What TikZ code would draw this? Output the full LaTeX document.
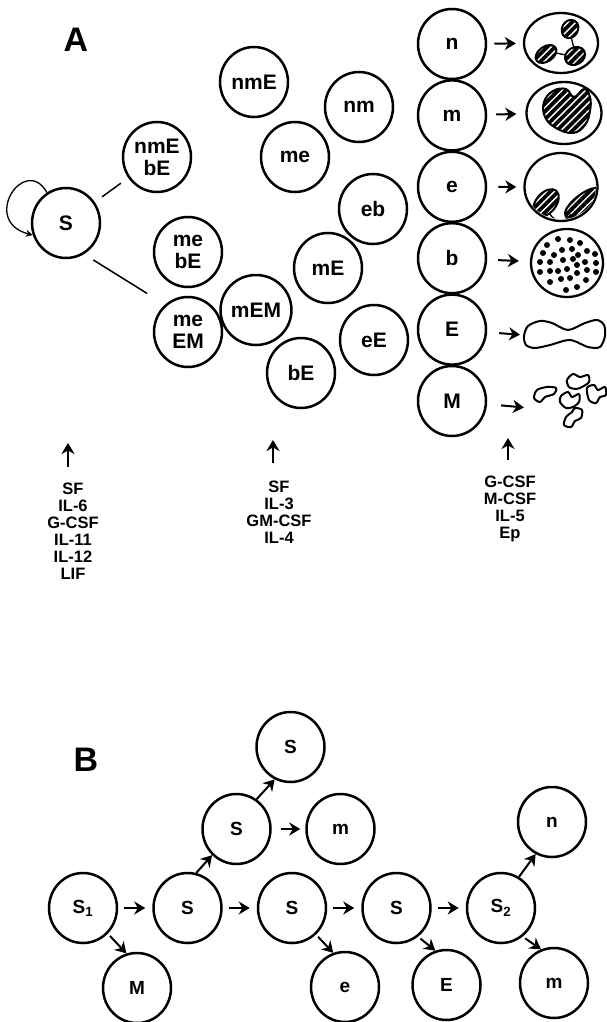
\documentclass[tikz,border=0pt]{standalone}
\usepackage{fontspec}
\setmainfont{Liberation Sans}
\usetikzlibrary{positioning,arrows.meta,shapes.geometric,patterns.meta}

\newcommand\cellfont{\bfseries\fontsize{21}{22}\selectfont}
\newcommand\stepfont{\bfseries\fontsize{19}{20}\selectfont}
\newcommand\factorfont{\bfseries\fontsize{16.5}{17}\selectfont}
\newcommand\panelfont{\bfseries\fontsize{34}{36}\selectfont}

\tikzset{
  prog/.style={ellipse, draw, line width=2.5pt, minimum width=68pt,
               minimum height=70pt, inner sep=0pt, align=center, font=\cellfont},
  lin/.style={prog, font=\stepfont},
  memb/.style={ellipse, draw, line width=2.3pt, inner sep=0pt},
  nucl/.style={draw, line width=2pt, line join=round, fill=white,
               pattern={Lines[angle=45,distance=5.5pt,line width=3.8pt]}},
  plt/.style={draw, line width=2pt, line join=round, fill=white},
  fan/.style={line width=1.5pt},
  arr/.style={-{Stealth[length=11pt,width=13pt,inset=3.5pt]}, line width=2pt},
  selfarr/.style={-{Stealth[length=7pt,width=7pt]}, line width=1.3pt},
  factors/.style={align=center, inner sep=0pt, font=\factorfont},
  panel/.style={font=\panelfont, inner sep=0pt},
}

\begin{document}
\begin{tikzpicture}[x=1pt, y=-1pt, on grid]
  \useasboundingbox (0,0) rectangle (607,1022);

  % --- A: stem cell and progenitor pool ---
  \node[panel] (pA) at (76,40) {A};
  \node[prog] (s) at (66,223) {S};
  \node[prog] (nmEbE) at (157,157) {nmE\\bE};
  \node[prog] (mebE) at (188,252) {me\\bE};
  \node[prog] (meEM) at (188,332) {me\\EM};
  \node[prog] (nmE) at (254,82) {nmE};
  \node[prog] (me) at (295,157) {me};
  \node[prog] (mEM) at (256,310) {mEM};
  \node[prog] (bE) at (301,373) {bE};
  \node[prog] (nm) at (359,107) {nm};
  \node[prog] (eb) at (373,209) {eb};
  \node[prog] (mE) at (328,268) {mE};
  \node[prog] (eE) at (374,340) {eE};

  \draw[selfarr] (s.122) .. controls +(-22,-39) and +(-53,-14) .. (s.200);
  \draw[fan, shorten <=9pt, shorten >=9pt] (s) -- (nmEbE);
  \draw[fan, shorten <=11pt, shorten >=21pt] (s.-60) -- (meEM.130);

  % committed precursors
  \node[prog] (cn) at (452,44) {n};
  \node[prog, below=71.4pt of cn] (cm) {m};
  \node[prog, below=71.4pt of cm] (ce) {e};
  \node[prog, below=71.4pt of ce] (cb) {b};
  \node[prog, below=71.4pt of cb] (cE) {E};
  \node[prog, below=71.4pt of cE] (cM) {M};

  % mature cells: nuclei first, membranes on top
  \draw[line width=1.3pt] (571,37) -- (574,48);
  \draw[line width=1.3pt] (556,53) -- (566,55);
  \draw[nucl, rotate around={60:(570,29)}] (570,29) ellipse [x radius=9.5, y radius=8];
  \draw[nucl, rotate around={35:(546,54)}] (546,54) ellipse [x radius=11.5, y radius=7.5];
  \draw[nucl, rotate around={30:(575,56)}] (575,56) ellipse [x radius=10.5, y radius=8.5];

  \draw[nucl] plot[smooth cycle, tension=0.7] coordinates {(574,97) (566,89) (553,91)
    (544,102) (545,117) (556,128) (573,133) (585,125) (590,111) (590,97) (584,89)};

  \begin{scope}
    \clip (561,187) ellipse [x radius=35, y radius=32];
    \draw[line width=1.3pt] (549,213) .. controls (556,224) and (566,222) .. (571,214);
    \draw[nucl, rotate around={50:(546,203)}] (546,203) ellipse [x radius=16, y radius=10];
    \draw[nucl, rotate around={38:(583,203)}] (583,203) ellipse [x radius=22, y radius=8.5];
  \end{scope}

  \foreach \x/\y in {558/239, 570/240, 547/245, 580/243, 562/250, 572/249, 587/251,
      543/253, 554/255, 578/255, 595/254, 563/260, 573/259, 585/262, 540/262, 550/262,
      577/265, 596/263, 567/269, 558/271, 587/270, 540/272, 550/271, 577/273, 596/272,
      561/279, 570/278, 586/280, 550/282, 577/287, 566/290}
    \fill (\x,\y) circle [radius=3];

  \node[memb, minimum width=74pt, minimum height=60pt] (neut) at (561,43) {};
  \node[memb, minimum width=75pt, minimum height=62pt] (mono) at (564,113) {};
  \node[memb, minimum width=73pt, minimum height=68pt] (eos) at (561,187) {};
  \node[memb, minimum width=72pt, minimum height=68pt] (baso) at (567,263) {};

  \draw[plt] plot[smooth cycle] coordinates {(524,336) (528,326) (540,321) (552,323)
    (568,330) (585,323) (597,320) (604,325) (605,336) (600,347) (588,347) (570,340)
    (550,345) (535,348) (526,345)};
  \coordinate (ery) at (524,335);

  \draw[plt] plot[smooth cycle] coordinates {(534,398) (537,390) (547,387) (556,388)
    (554,394) (545,397) (540,402)};
  \draw[plt] plot[smooth cycle] coordinates {(567,380) (573,374) (580,377) (588,375)
    (589,382) (582,387) (576,389) (569,387)};
  \draw[plt] plot[smooth cycle] coordinates {(587,388) (594,385) (598,390) (605,387)
    (606,395) (600,397) (596,403) (589,400)};
  \draw[plt] plot[smooth cycle] coordinates {(561,396) (568,392) (572,397) (579,394)
    (579,402) (573,407) (566,408) (560,402)};
  \draw[plt] plot[smooth cycle] coordinates {(575,408) (582,410) (581,418) (575,421)
    (571,427) (564,425) (566,417) (572,412)};
  \coordinate (plts) at (530,408);

  \draw[arr, shorten <=7pt, shorten >=7pt] (cn) -- (neut);
  \draw[arr, shorten <=9pt, shorten >=9pt] (cm) -- (mono);
  \draw[arr, shorten <=11pt, shorten >=7pt] (ce) -- (eos);
  \draw[arr, shorten <=11pt, shorten >=11pt] (cb) -- (baso);
  \draw[arr, shorten <=12pt, shorten >=4pt] (cE) -- (ery);
  \draw[arr, shorten <=14pt, shorten >=6pt] (cM) -- (plts);

  % growth factors acting on each stage
  \node[factors] (fS) at (73,531) {SF\\IL-6\\G-CSF\\IL-11\\IL-12\\LIF};
  \node[factors] (fP) at (279,512) {SF\\IL-3\\GM-CSF\\IL-4};
  \node[factors] (fL) at (510,509) {G-CSF\\M-CSF\\IL-5\\Ep};
  \coordinate (tS) at (68,467);  \coordinate (uS) at (68,443);
  \coordinate (tP) at (273,463); \coordinate (uP) at (273,440);
  \coordinate (tL) at (508,460); \coordinate (uL) at (508,438);
  \draw[arr] (tS) -- (uS);
  \draw[arr] (tP) -- (uP);
  \draw[arr] (tL) -- (uL);

  % --- B: stochastic commitment along the stem cell line ---
  \node[panel] (pB) at (86,760) {B};
  \node[lin] (s1) at (83,908) {S\textsubscript{1}};
  \node[lin, right=104.5pt of s1] (sa) {S};
  \node[lin, right=104.5pt of sa] (sb) {S};
  \node[lin, right=104.5pt of sb] (sc) {S};
  \node[lin, right=104.5pt of sc] (s2) {S\textsubscript{2}};
  \node[lin, above right=79pt and 49pt of sa] (sd) {S};
  \node[lin, above right=82pt and 54pt of sd] (se) {S};
  \node[lin, right=104pt of sd] (mB) {m};
  \node[lin, below right=80pt and 54pt of s1] (MB) {M};
  \node[lin, below right=79pt and 53pt of sb] (eB) {e};
  \node[lin, below right=77pt and 50pt of sc] (EB) {E};
  \node[lin, above right=86pt and 51pt of s2] (nB) {n};
  \node[lin, below right=75pt and 53pt of s2] (mB2) {m};

  \draw[arr, shorten <=6pt, shorten >=7pt] (s1) -- (sa);
  \draw[arr, shorten <=6pt, shorten >=7pt] (sa) -- (sb);
  \draw[arr, shorten <=6pt, shorten >=7pt] (sb) -- (sc);
  \draw[arr, shorten <=6pt, shorten >=7pt] (sc) -- (s2);
  \draw[arr, shorten <=9pt, shorten >=5pt] (sd) -- (mB);
  \draw[arr, shorten <=3pt] (s1.-46) -- (MB.107);
  \draw[arr] (sa.76) -- (sd.-133);
  \draw[arr] (sd.56) -- (se.-116);
  \draw[arr, shorten <=3pt] (sb.-48) -- (eB.109);
  \draw[arr, shorten <=3pt] (sc.-53) -- (EB.108);
  \draw[arr, shorten <=3pt] (s2.-53) -- (mB2.111);
  \draw[arr] (s2.60) -- (nB.-117);
\end{tikzpicture}
\end{document}
